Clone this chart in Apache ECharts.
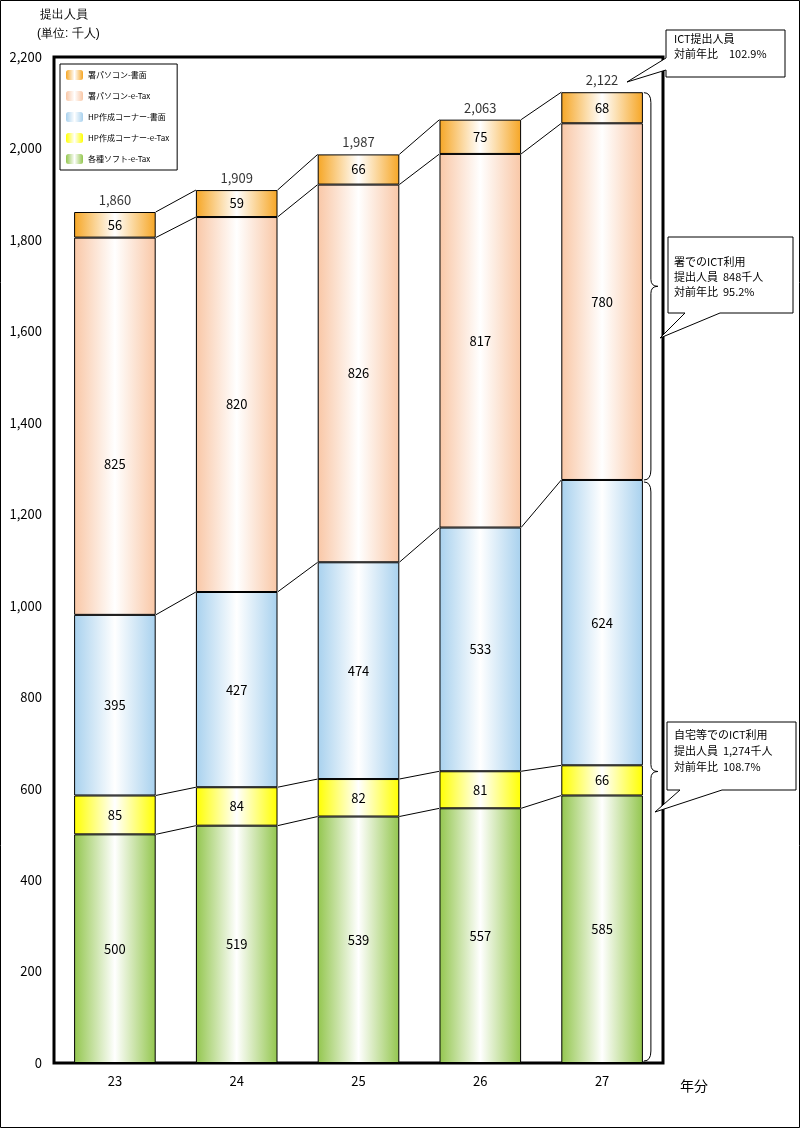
<!DOCTYPE html>
<html>
<head>
<meta charset="utf-8">
<script src="https://cdn.jsdelivr.net/npm/echarts@6/dist/echarts.min.js"></script>
<style>
html,body{margin:0;padding:0;background:#fff;}
#c{width:800px;height:1128px;}
</style>
</head>
<body>
<div id="c"></div>
<script>
// ---- data ----
const years = ['23', '24', '25', '26', '27'];
const seriesNames = ['各種ソフト-e-Tax', 'HP作成コーナー-e-Tax', 'HP作成コーナー-書面', '署パソコン-e-Tax', '署パソコン-書面'];
const softETax      = [500, 519, 539, 557, 585];
const hpETax        = [85, 84, 82, 81, 66];
const hpPaper       = [395, 427, 474, 533, 624];
const officePcETax  = [825, 820, 826, 817, 780];
const officePcPaper = [56, 59, 66, 75, 68];
const totals        = [1860, 1909, 1987, 2063, 2122];
const yMin = 0, yMax = 2200, yStep = 200;

const FONT = '"Noto Sans CJK JP", "Noto Sans", sans-serif';
const valueSets = [softETax, hpETax, hpPaper, officePcETax, officePcPaper];
const baseColors = ['#93C64E', '#FFFF00', '#A8D1EE', '#F9C7A6', '#F6A625'];

function grad(c) {
  return new echarts.graphic.LinearGradient(0, 0, 1, 0, [
    {offset: 0, color: c}, {offset: 0.5, color: '#FFFFFF'}, {offset: 1, color: c}
  ]);
}
const fmt = v => v.toLocaleString('en-US');

// cumulative levels (for connector lines and braces)
const cum = [];
let run = years.map(() => 0);
valueSets.forEach(arr => { run = run.map((r, i) => r + arr[i]); cum.push(run.slice()); });

const connectorData = [];
cum.forEach(level => {
  for (let i = 0; i < years.length - 1; i++) connectorData.push([i, level[i], level[i + 1]]);
});

const last = years.length - 1;
const homeTop = cum[2][last];
const braceData = [[last, 0, homeTop, totals[last]]];

const BAR_FRAC = 0.67;

const barSeries = valueSets.map((arr, k) => ({
  name: seriesNames[k],
  type: 'bar',
  stack: 'total',
  barWidth: (BAR_FRAC * 100) + '%',
  data: arr.map((v, i) => {
    const d = {value: v};
    if (k === 3 && i === 0) d.label = {offset: [0, 38]};
    return d;
  }),
  itemStyle: {color: grad(baseColors[k]), borderColor: '#000', borderWidth: 1},
  label: {show: true, position: 'inside', color: '#000', fontSize: 13, fontFamily: FONT},
  emphasis: {disabled: true}
}));

const option = {
  animation: false,
  backgroundColor: '#fff',
  textStyle: {fontFamily: FONT},
  grid: {left: 54, right: 137, top: 57, bottom: 65, show: true, borderColor: '#000', borderWidth: 3, backgroundColor: 'transparent'},
  legend: {
    data: seriesNames.slice().reverse(),
    orient: 'vertical',
    left: 60, top: 64,
    padding: [6, 8, 6, 6],
    itemGap: 11,
    itemWidth: 17, itemHeight: 10,
    borderColor: '#000', borderWidth: 1,
    backgroundColor: '#fff',
    itemStyle: {borderWidth: 0},
    textStyle: {fontSize: 8, color: '#000', fontFamily: FONT}
  },
  xAxis: {
    type: 'category', data: years,
    axisLine: {show: false}, axisTick: {show: false},
    axisLabel: {color: '#000', fontSize: 13, margin: 12, fontFamily: FONT}
  },
  yAxis: {
    type: 'value', min: yMin, max: yMax, interval: yStep,
    axisLine: {show: false}, axisTick: {show: false}, splitLine: {show: false},
    axisLabel: {color: '#000', fontSize: 13, margin: 12, fontFamily: FONT, formatter: v => fmt(v)}
  },
  series: barSeries.concat([
    {
      type: 'scatter', name: 'total', symbolSize: 1,
      itemStyle: {color: 'transparent'},
      data: totals.map((t, i) => ({value: [i, cum[4][i]], label: {formatter: fmt(t)}})),
      label: {show: true, position: 'top', distance: 5, color: '#000', fontSize: 13, fontFamily: FONT},
      emphasis: {disabled: true}, z: 5
    },
    {
      type: 'custom', name: 'connectors', data: connectorData,
      renderItem: (params, api) => {
        const i = api.value(0);
        const p0 = api.coord([i, api.value(1)]);
        const p1 = api.coord([i + 1, api.value(2)]);
        const half = api.size([1, 0])[0] * BAR_FRAC / 2;
        return {type: 'line', shape: {x1: p0[0] + half, y1: p0[1], x2: p1[0] - half, y2: p1[1]},
                style: {stroke: '#000', lineWidth: 1}};
      }, z: 3
    },
    {
      type: 'custom', name: 'braces', data: braceData,
      renderItem: (params, api) => {
        const i = api.value(0);
        const half = api.size([1, 0])[0] * BAR_FRAC / 2;
        const cx = api.coord([i, 0])[0] + half;
        const xa = cx + 1, xb = cx + 8, xc = cx + 15;
        function brace(y0, y1) {
          const ym = (y0 + y1) / 2;
          return {type: 'path', shape: {pathData:
            `M${xa} ${y0} Q${xb} ${y0} ${xb} ${y0 + 10} L${xb} ${ym - 7} Q${xb} ${ym} ${xc} ${ym} Q${xb} ${ym} ${xb} ${ym + 7} L${xb} ${y1 - 10} Q${xb} ${y1} ${xa} ${y1}`},
            style: {stroke: '#000', lineWidth: 1, fill: null}};
        }
        const yb = api.coord([i, api.value(1)])[1];
        const ym = api.coord([i, api.value(2)])[1];
        const yt = api.coord([i, api.value(3)])[1];
        return {type: 'group', children: [brace(yt, ym), brace(ym + 2, yb - 2)]};
      }, z: 3
    }
  ]),
  graphic: [
    {type: 'rect', shape: {x: 0.5, y: 0.5, width: 799, height: 1127}, style: {stroke: '#000', lineWidth: 1, fill: null}, silent: true},
    {type: 'text', left: 40, top: 9, style: {text: '提出人員', fontSize: 12, fill: '#000', font: '12px ' + FONT}},
    {type: 'text', left: 37, top: 28, style: {text: '(単位: 千人)', fontSize: 12, fill: '#000', font: '12px ' + FONT}},
    {type: 'text', left: 680, top: 1079, style: {text: '年分', fill: '#000', font: '14px ' + FONT}},
    // callout 1
    {type: 'polygon', shape: {points: [[666,30],[785,30],[785,77],[666,77],[666,70],[627,82],[666,58]]}, style: {stroke: '#000', lineWidth: 1, fill: '#fff'}},
    {type: 'text', left: 674, top: 31, style: {text: 'ICT提出人員\n対前年比　102.9%', lineHeight: 15, fill: '#000', font: '11px ' + FONT}},
    // callout 2
    {type: 'polygon', shape: {points: [[668,237],[793,237],[793,313],[720,313],[660,338],[685,313],[668,313]]}, style: {stroke: '#000', lineWidth: 1, fill: '#fff'}},
    {type: 'text', left: 674, top: 254, style: {text: '署でのICT利用\n提出人員  848千人\n対前年比  95.2%', lineHeight: 15, fill: '#000', font: '11px ' + FONT}},
    // callout 3
    {type: 'polygon', shape: {points: [[667,722],[796,722],[796,790],[722,790],[655,812],[680,790],[667,790]]}, style: {stroke: '#000', lineWidth: 1, fill: '#fff'}},
    {type: 'text', left: 674, top: 727, style: {text: '自宅等でのICT利用\n提出人員  1,274千人\n対前年比  108.7%', lineHeight: 16, fill: '#000', font: '11px ' + FONT}}
  ]
};

const chart = echarts.init(document.getElementById('c'), null, {renderer: 'canvas'});
chart.setOption(option);
</script>
</body>
</html>
